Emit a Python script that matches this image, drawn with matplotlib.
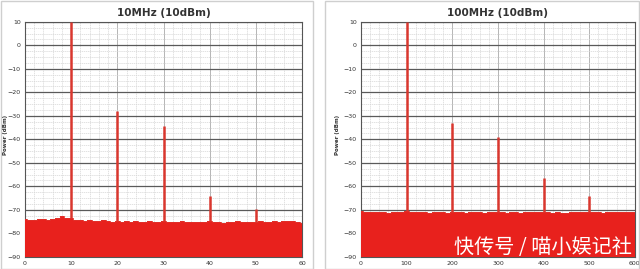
import matplotlib
matplotlib.use('Agg')
import matplotlib.pyplot as plt
from matplotlib.patches import Rectangle
import numpy as np

# ---- data ----
titles = ['10MHz (10dBm)', '100MHz (10dBm)']

# left: 10 MHz fundamental, x axis 0..60
freq_10 = list(range(0, 61))
floor_10 = [-74.0, -74.2, -74.3, -73.8, -74.0, -74.1, -73.9, -73.5, -72.8, -73.6,
            -73.5, -74.2, -74.4, -74.6, -74.3, -74.6, -74.8, -74.5, -74.9, -75.0,
            -74.6, -75.0, -74.8, -75.2, -74.9, -75.0, -75.3, -74.8, -75.0, -75.1,
            -74.8, -75.0, -75.3, -75.1, -74.9, -75.2, -75.0, -75.3, -75.1, -75.2,
            -74.9, -75.3, -75.0, -75.4, -75.1, -75.0, -74.7, -75.2, -75.0, -75.3,
            -75.0, -74.8, -75.2, -75.0, -74.9, -75.2, -74.8, -74.9, -74.6, -75.0,
            -75.4]
peak_f_10 = [10, 20, 30, 40, 50]
peak_p_10 = [10, -28.0, -34.3, -63.9, -69.6]
xticks_10 = [0, 10, 20, 30, 40, 50, 60]

# right: 100 MHz fundamental, x axis 0..600
freq_100 = list(range(0, 601, 10))
floor_100 = [-70.6, -70.8, -70.9, -71.0, -70.7, -70.9, -71.2, -70.8, -71.0, -70.7,
             -70.6, -70.9, -71.1, -70.8, -71.0, -71.3, -70.9, -71.0, -70.8, -71.2,
             -70.7, -71.0, -70.9, -71.3, -71.1, -70.8, -71.0, -71.4, -70.9, -71.0,
             -70.8, -71.0, -71.2, -70.9, -71.1, -71.4, -71.0, -70.8, -71.1, -71.0,
             -70.7, -71.0, -71.2, -70.9, -71.3, -71.5, -71.0, -70.9, -71.1, -71.0,
             -70.8, -71.1, -70.9, -71.2, -71.0, -70.8, -71.1, -70.9, -71.0, -70.9,
             -70.8]
peak_f_100 = [100, 200, 300, 400, 500]
peak_p_100 = [10, -33.0, -39.2, -56.3, -64.0]
xticks_100 = [0, 100, 200, 300, 400, 500, 600]

yticks = [10, 0, -10, -20, -30, -40, -50, -60, -70, -80, -90]

plt.rcParams['font.family'] = ['DejaVu Sans']

fig = plt.figure(figsize=(6.4, 2.69), dpi=100)
fig.patch.set_facecolor('white')

# panel frames
fig.patches.append(Rectangle((0.002, 0.0), 0.487, 0.998, transform=fig.transFigure,
                             fill=False, edgecolor='#cfcfcf', linewidth=1))
fig.patches.append(Rectangle((0.508, 0.0), 0.49, 0.998, transform=fig.transFigure,
                             fill=False, edgecolor='#cfcfcf', linewidth=1))

panels = [
    ([0.039, 0.045, 0.433, 0.874], freq_10, floor_10, peak_f_10, peak_p_10, xticks_10, 0.008),
    ([0.564, 0.045, 0.428, 0.874], freq_100, floor_100, peak_f_100, peak_p_100, xticks_100, 0.527),
]

red = '#e8211d'
for i, (pos, f, fl, pf, pp, xt, lab_x) in enumerate(panels):
    ax = fig.add_axes(pos)
    ax.set_facecolor('white')
    xmax = xt[-1]
    step = xmax / 60.0

    # noise floor
    ax.fill_between(f, fl, -90, step='mid', color=red, linewidth=0, zorder=3)
    ax.step(f, fl, where='mid', color='#e0312b', linewidth=0.6, zorder=3)

    # harmonics
    for x, p in zip(pf, pp):
        base = np.interp(x, f, fl)
        ax.vlines(x, base, p, color='#d9372e', linewidth=1.8, zorder=4)

    ax.set_xlim(0, xmax)
    ax.set_ylim(-90, 10)
    ax.set_xticks(xt)
    ax.set_yticks(yticks)
    ax.set_xticks(np.arange(0, xmax + 0.01, 2 * step), minor=True)
    ax.set_yticks(np.arange(-90, 10.01, 2.5), minor=True)
    ax.grid(which='major', axis='y', color='#5a5a5a', linewidth=0.9, zorder=1)
    ax.grid(which='major', axis='x', color='#b5b5b5', linewidth=0.7, zorder=1)
    ax.grid(which='minor', color='#d6d6d6', linewidth=0.5, linestyle=(0, (2, 1)), zorder=1)
    ax.tick_params(which='both', length=0, labelsize=4.5, colors='#333333', pad=3)
    for s in ax.spines.values():
        s.set_color('#555555')
        s.set_linewidth(0.8)
    ax.set_title(titles[i], fontsize=7.5, fontweight='bold', color='#333333', pad=4)
    fig.text(lab_x, 0.5, 'Power (dBm)', rotation=90, fontsize=4, fontweight='bold',
             color='#333333', ha='center', va='center')

fig.text(0.988, 0.08, '快传号 / 喵小娱记社', family=['Noto Sans CJK SC', 'DejaVu Sans'],
         fontsize=14.5, color='white', ha='right', va='center', zorder=10)

fig.savefig('out.png', dpi=100)
